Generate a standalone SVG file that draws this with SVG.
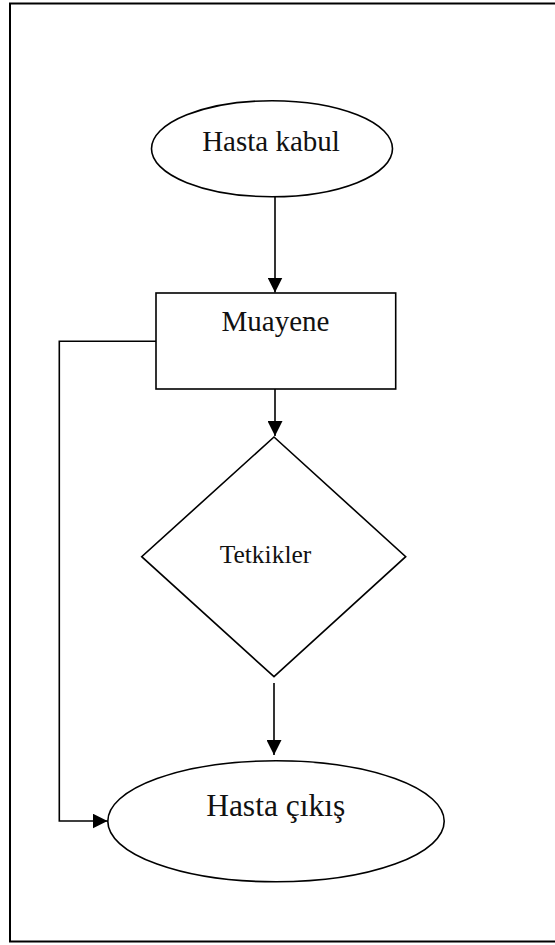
<svg xmlns="http://www.w3.org/2000/svg" width="555" height="945" viewBox="0 0 555 945">
  <style>
    .shape { fill: #ffffff; stroke: #000000; stroke-width: 1.6; }
    .frame { fill: none; stroke: #000000; stroke-width: 2; }
    .edge { fill: none; stroke: #000000; stroke-width: 1.6; }
    .label { font-family: "Liberation Serif", "Times New Roman", serif; fill: #111111; text-anchor: middle; }
  </style>
  <defs>
    <marker id="arrow" viewBox="0 0 15 15" refX="15" refY="7.5" markerWidth="15" markerHeight="15" markerUnits="userSpaceOnUse" orient="auto">
      <path d="M0,0 L15,7.5 L0,15 Z" fill="#000000"/>
    </marker>
  </defs>

  <!-- page frame (right side runs past the canvas edge) -->
  <rect class="frame" x="10" y="3.5" width="550" height="938"/>

  <!-- connectors -->
  <g id="connectors">
    <path class="edge" d="M275,197 V292.5" marker-end="url(#arrow)"/>
    <path class="edge" d="M275,389 V436" marker-end="url(#arrow)"/>
    <path class="edge" d="M274,683 V755" marker-end="url(#arrow)"/>
    <path class="edge" d="M156,341.3 H59.3 V821 H107.5" marker-end="url(#arrow)"/>
  </g>

  <!-- start: patient admission -->
  <g id="hasta-kabul">
    <ellipse class="shape" cx="272" cy="148.7" rx="120.5" ry="48"/>
    <text class="label" x="271" y="150.5" font-size="29">Hasta kabul</text>
  </g>

  <!-- examination -->
  <g id="muayene">
    <rect class="shape" x="156" y="293" width="239.7" height="96"/>
    <text class="label" x="275.5" y="331" font-size="29">Muayene</text>
  </g>

  <!-- tests -->
  <g id="tetkikler">
    <polygon class="shape" points="274,437 405.7,556.7 274,676.7 141.7,556.7"/>
    <text class="label" x="265.5" y="563" font-size="25.5">Tetkikler</text>
  </g>

  <!-- end: patient discharge -->
  <g id="hasta-cikis">
    <ellipse class="shape" cx="276" cy="821.3" rx="168.2" ry="60.5"/>
    <text class="label" x="275.7" y="815.7" font-size="31.5">Hasta çıkış</text>
  </g>
</svg>
